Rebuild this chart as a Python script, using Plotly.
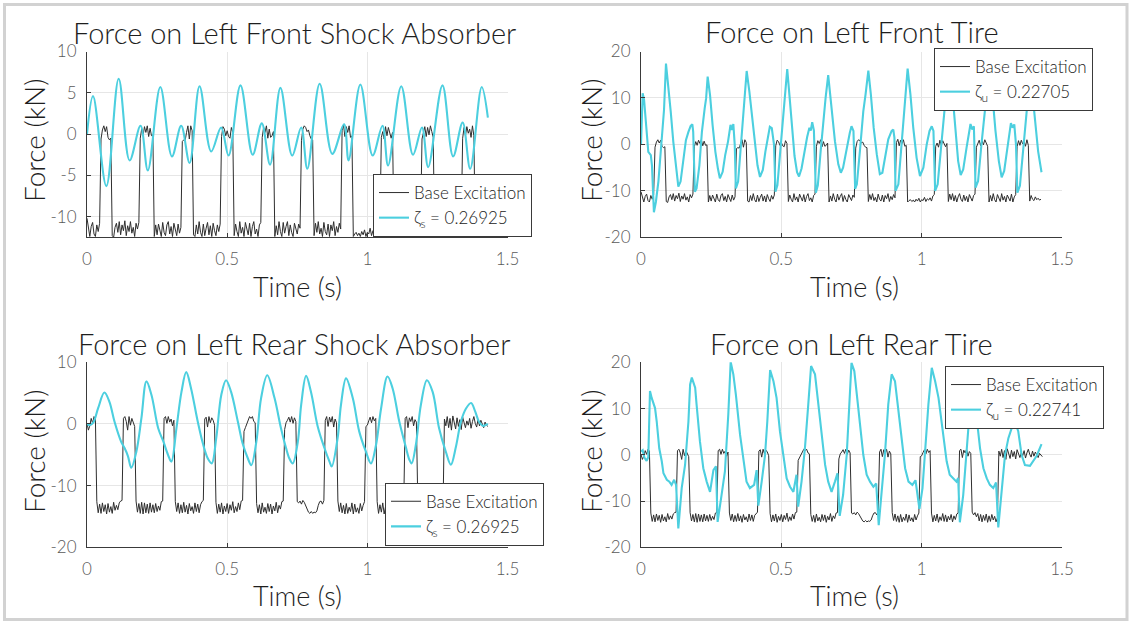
import numpy as np
import plotly.graph_objects as go

# ---------------- data ----------------
SAMPLE_DT = 0.005  # sampling step of the base-excitation records (s)

# Front base excitation (kN), sampled every SAMPLE_DT from t = 0
front_base = [
    -10.2, -11.6, -12.4, -11.2, -10.7, -12.1, -12.4, -11.0, -11.8, -10.8,
    -0.6, 0.5, 1.0, 0.3, 0.9, -0.4, -0.7, -0.5,
    -12.3, -12.5, -11.3, -10.8, -11.9, -10.6, -12.2, -11.0, -11.7, -10.5,
    -12.3, -11.1, -11.8, -10.6, -12.0, -11.3, -12.4, -10.8, -11.5, -10.7,
    -0.5, 0.6, -0.2, 0.9, 0.2, 1.0, -0.3, 0.7, -0.2, -0.1,
    -12.4, -11.0, -12.2, -10.9, -11.8, -12.4, -10.7, -11.9, -12.3, -11.0,
    -10.6, -12.1, -11.2, -12.4, -10.8, -11.6, -12.3, -10.9, -12.0, -11.3,
    -0.9, -0.7, -0.8, 0.2, 1.0, -0.6, 1.0, 0.4,
    -12.2, -12.4, -11.0, -12.1, -10.6, -11.9, -12.4, -10.9, -12.3, -11.4,
    -10.7, -12.2, -11.1, -12.4, -10.8, -11.7, -12.3, -11.0, -11.8, -10.9,
    -0.3, 0.9, 0.6, -0.2, 0.4, -0.3, -0.5, 0.8, 0.2,
    -12.3, -10.9, -11.8, -12.4, -10.6, -12.0, -11.3, -12.4, -10.7, -11.6,
    -12.2, -10.8, -12.4, -11.2, -10.6, -12.1, -11.5, -12.4, -11.0, -10.7,
    -0.4, 0.8, 0.2, 1.0, -0.5, 0.6, -0.4, -0.2, 0.3,
    -12.4, -11.1, -12.2, -10.6, -11.8, -12.4, -10.7, -12.0, -11.2, -10.6,
    -12.3, -11.0, -11.9, -12.4, -10.8, -11.6, -12.1, -10.9, -11.4,
    -0.8, 0.6, 1.0, 0.8, 0.3, 0.5, -0.2, -0.6, -0.7,
    -12.3, -10.8, -11.9, -10.6, -12.1, -11.4, -12.4, -10.7, -11.8, -12.2,
    -10.9, -12.4, -11.0, -11.7, -10.6, -12.3, -11.2, -11.9, -10.8, -11.5,
    0.4, 1.1, -0.3, 0.9, 0.2, 1.0, -0.4, -0.2,
    -12.4, -12.1, -11.9, -12.3, -12.0, -12.4, -11.8, -12.2, -11.6, -12.4,
    -11.9, -12.1, -11.4, -12.3, -11.7, -12.0, -11.5, -12.2, -11.1, -10.8,
    -0.4, 0.3, -0.6, 0.9, -0.2, 0.8, 0.1, -0.5, 0.2,
    -12.3, -10.7, -11.9, -10.6, -12.2, -11.0, -12.4, -11.3, -10.6, -11.8,
    -12.3, -10.9, -12.1, -11.2, -12.4, -10.8, -11.6, -12.2, -11.0, -10.7,
    -0.6, 0.2, 0.9, -0.3, 0.8, -0.1, 1.0, 0.3, -0.4,
    -12.4, -11.0, -12.2, -10.6, -11.9, -12.4, -10.8, -11.4, -12.3, -10.6,
    -12.0, -11.2, -12.4, -10.9, -11.7, -12.2, -10.7, -12.4, -11.3, -10.8,
    -0.5, 0.8, -0.2, 0.9, 0.1, 0.6, -0.4, 1.0, -0.2,
    -12.2, -11.0, -11.8, -12.1, -11.3, -11.9, -11.6, -12.0, -11.8,
]

# Rear base excitation (kN), sampled every SAMPLE_DT from t = 0
rear_base = [
    0.1, -1.0, -0.3, 0.9, 0.1, 1.2, 0.8,
    -12.6, -14.4, -13.0, -14.5, -12.8, -14.2, -13.1, -14.6, -12.9, -14.3,
    -13.4, -14.5, -12.7, -14.0, -13.2, -13.9, -12.8, -12.5, -12.4,
    0.9, 1.2, 0.4, -1.0, 1.2, -0.2, 0.9, 0.1, -0.4,
    -12.5, -14.3, -12.9, -14.5, -12.7, -14.6, -12.8, -14.4, -13.0, -14.5,
    -12.8, -14.3, -13.1, -14.4, -12.9, -14.2, -13.3, -14.0, -12.6, -12.5,
    0.9, 1.2, 0.1, 1.2, 0.3, 0.8, -0.3, 0.6,
    -12.6, -14.2, -12.8, -14.5, -13.1, -14.4, -12.7, -14.3, -13.2, -14.6,
    -12.9, -14.1, -13.4, -14.5, -12.8, -14.2, -13.0, -14.4, -13.1, -12.6, -12.4,
    0.8, 1.1, -0.5, 1.2, 0.2, 1.0, 0.6, -0.2,
    -12.7, -14.5, -13.0, -14.3, -12.8, -14.6, -13.3, -14.2, -12.9, -14.5,
    -13.1, -14.0, -12.6, -14.4, -13.4, -14.2, -12.8, -13.9, -12.5, -12.4,
    -1.2, -0.6, 0.1, 0.8, 1.2, 0.9, 1.2, 0.4, 0.2,
    -12.9, -14.4, -13.1, -14.6, -12.8, -14.3, -13.5, -14.5, -12.9, -14.2,
    -13.0, -14.6, -13.3, -14.1, -12.7, -14.4, -13.2, -13.8, -12.6, -12.5,
    -0.9, 0.2, 0.6, 1.1, 0.3, 1.2, 0.1, 1.0, 0.4,
    -12.6, -12.8, -12.5, -13.0, -12.4, -12.7, -13.3, -13.9, -14.3, -14.5,
    -14.2, -14.5, -14.3, -14.4, -14.1, -13.2, -12.6, -12.5, -13.0, -12.4,
    0.6, 1.2, -0.4, 1.1, 0.3, 1.2, -0.5, 0.8, 0.2,
    -12.5, -14.2, -12.8, -14.4, -13.2, -14.6, -12.9, -14.5, -13.5, -14.2,
    -12.8, -14.6, -13.0, -14.3, -13.6, -14.5, -12.9, -14.1, -13.2, -12.6,
    -0.4, -0.2, 0.5, 1.1, 0.2, 1.2, 0.5, 0.9,
    -12.6, -14.5, -13.1, -14.3, -12.8, -14.6, -13.4, -14.2, -12.7, -14.4,
    -13.0, -14.5, -13.3, -14.1, -12.9, -14.5, -13.2, -14.0, -12.8, -12.6,
    0.9, 1.2, -0.6, 1.0, 0.4, 1.2, -0.3, 0.7, 0.3,
    -12.4, -13.0, -12.5, -13.4, -12.7, -14.3, -12.9, -14.5, -13.1, -14.2,
    -12.8, -14.6, -13.2, -14.4, -12.9, -14.1, -13.3, -14.5, -13.6,
    0.8, -0.3, 1.2, -0.6, 0.9, -1.0, 1.3, 0.2, -0.8, 1.0,
    -0.4, 0.7, -0.9, 1.1, 0.3, -0.6, 0.5, -0.2, 0.9, -0.7,
    0.4, 1.2, 0.1, -0.5, 0.8, -0.3, 0.6, 0.0, -0.6, 0.3, -0.2, -0.4,
]

# Left front shock absorber force, zeta_s = 0.26925
front_shock_t = [0.000, 0.0215, 0.069, 0.113, 0.152, 0.191, 0.217, 0.2615, 0.303, 0.336,
                 0.366, 0.4015, 0.443, 0.4785, 0.505, 0.5475, 0.591, 0.6235, 0.653, 0.690,
                 0.732, 0.764, 0.786, 0.830, 0.875, 0.917, 0.933, 0.975, 1.019, 1.054,
                 1.074, 1.121, 1.163, 1.195, 1.217, 1.268, 1.306, 1.340, 1.367, 1.408, 1.430]
front_shock_v = [0.0, 4.6, -6.3, 6.7, -3.2, 1.0, -4.4, 5.7, -2.7, 1.0,
                 -3.5, 5.8, -2.1, 0.8, -2.6, 5.9, -2.5, 1.3, -3.7, 5.6,
                 -2.6, 0.8, -4.2, 6.1, -2.4, 1.2, -3.2, 6.0, -2.6, 1.0,
                 -3.8, 5.8, -2.5, 0.8, -4.0, 5.9, -2.7, 1.4, -4.2, 5.7, 2.0]

# Left rear shock absorber force, zeta_s = 0.26925
rear_shock_t = [0.000, 0.010, 0.022, 0.040, 0.062, 0.080, 0.098, 0.122, 0.134, 0.146,
                0.158, 0.176, 0.194, 0.212, 0.230, 0.254, 0.272, 0.289, 0.301, 0.319,
                0.337, 0.354, 0.371, 0.395, 0.413, 0.431, 0.445, 0.461, 0.479, 0.496,
                0.514, 0.538, 0.556, 0.574, 0.586, 0.604, 0.621, 0.643, 0.669, 0.692,
                0.710, 0.722, 0.734, 0.752, 0.764, 0.7815, 0.799, 0.823, 0.847, 0.865,
                0.873, 0.894, 0.906, 0.924, 0.948, 0.971, 0.995, 1.013, 1.031, 1.049,
                1.072, 1.090, 1.114, 1.137, 1.150, 1.158, 1.173, 1.191, 1.2125, 1.233,
                1.256, 1.280, 1.298, 1.316, 1.334, 1.352, 1.370, 1.385, 1.398, 1.412, 1.430]
rear_shock_v = [0.0, -0.2, 0.2, 2.6, 5.1, 3.6, 0.4, -2.9, -3.9, -5.2,
                -7.1, -4.5, 0.9, 6.9, 4.7, -0.7, -2.8, -5.0, -6.1, -0.7,
                5.2, 8.4, 5.8, 0.4, -3.1, -5.6, -6.4, -2.3, 4.7, 7.1,
                5.2, 0.4, -3.3, -5.6, -6.7, -2.9, 4.2, 7.9, 4.2, -0.7,
                -3.9, -5.6, -6.4, -2.9, 3.1, 7.8, 5.2, -0.4, -3.9, -6.1,
                -6.9, -2.3, 3.1, 7.4, 4.2, -1.2, -4.5, -6.4, -3.4, 2.5,
                7.7, 5.8, 0.4, -3.7, -5.8, -6.4, -3.4, 3.1, 7.1, 5.2,
                -0.7, -4.5, -6.6, -3.7, 0.4, 2.5, 3.4, 2.0, 0.4, -0.3, 0.0]

# Left front tire force, zeta_u = 0.22705
front_tire_t = [0.000, 0.006, 0.011, 0.018, 0.026, 0.035, 0.039, 0.046, 0.053, 0.062,
                0.070, 0.077, 0.082, 0.089, 0.097, 0.106, 0.115, 0.125, 0.133, 0.141,
                0.151, 0.160, 0.169, 0.177, 0.183, 0.186, 0.192, 0.198, 0.208, 0.217,
                0.227, 0.232, 0.2375, 0.246, 0.255, 0.265, 0.274, 0.281, 0.291, 0.300,
                0.310, 0.315, 0.319, 0.324, 0.329, 0.334, 0.338, 0.346, 0.355, 0.365,
                0.372, 0.3765, 0.386, 0.396, 0.405, 0.415, 0.424, 0.434, 0.443, 0.452,
                0.459, 0.466, 0.474, 0.479, 0.486, 0.495, 0.505, 0.513, 0.521, 0.529,
                0.538, 0.547, 0.556, 0.563, 0.572, 0.582, 0.592, 0.600, 0.605, 0.610,
                0.616, 0.623, 0.630, 0.640, 0.650, 0.658, 0.667, 0.679, 0.691, 0.703,
                0.712, 0.720, 0.729, 0.738, 0.744, 0.750, 0.757, 0.763, 0.769, 0.780,
                0.792, 0.800, 0.810, 0.819, 0.829, 0.840, 0.851, 0.860, 0.869, 0.881,
                0.893, 0.899, 0.903, 0.907, 0.917, 0.929, 0.938, 0.944, 0.950, 0.960,
                0.970, 0.982, 0.994, 1.006, 1.018, 1.028, 1.036, 1.042, 1.048, 1.057,
                1.069, 1.081, 1.090, 1.100, 1.110, 1.121, 1.130, 1.139, 1.148, 1.160,
                1.168, 1.174, 1.180, 1.186, 1.192, 1.201, 1.213, 1.225, 1.235, 1.243,
                1.252, 1.263, 1.275, 1.285, 1.294, 1.304, 1.312, 1.318, 1.324, 1.330,
                1.336, 1.341, 1.350, 1.362, 1.372, 1.380, 1.388, 1.396, 1.405, 1.415, 1.427]
front_tire_v = [-0.1, 11.0, 9.6, 4.9, -1.6, -2.3, -4.5, -14.6, -12.4, -8.0,
                -1.6, 4.9, 7.4, 17.4, 12.8, 7.0, 0.6, -5.2, -9.1, -8.0,
                -3.0, 0.9, 2.7, 4.0, 4.3, 2.7, -10.2, -9.5, -4.5, 2.7,
                7.8, 9.9, 14.6, 10.6, 4.2, -1.6, -5.2, -7.3, -5.9, -2.3,
                0.6, 2.7, 4.2, 3.1, 4.4, -0.1, -9.5, -8.0, -0.9, 5.6,
                10.6, 15.8, 11.4, 5.6, -0.1, -4.5, -7.0, -5.5, -1.6, 2.0,
                3.8, 3.5, -0.1, -10.2, -8.8, -2.3, 4.9, 10.6, 16.2, 10.5,
                3.5, -2.5, -6.0, -6.9, -5.2, -1.5, 1.6, 3.6, 3.0, 4.8,
                3.0, -10.4, -8.8, -1.5, 5.5, 10.2, 14.9, 7.9, 0.7, -4.3,
                -6.1, -5.0, -2.1, 1.1, 2.5, 3.9, 2.9, -9.6, -8.6, -1.4,
                7.1, 10.7, 15.9, 10.7, 3.6, -2.1, -6.4, -6.1, -2.9, 1.1,
                2.9, 3.2, 1.4, -10.0, -8.6, 0.0, 7.9, 12.1, 16.3, 10.7,
                3.6, -2.9, -6.8, -5.0, 0.0, 2.9, 3.9, 2.9, -10.0, -8.6,
                0.0, 7.1, 12.1, 15.5, 10.7, 2.9, -3.6, -6.6, -5.4, -0.7,
                2.9, 4.4, 3.2, 3.9, -9.3, -7.9, 0.0, 7.9, 12.9, 15.4,
                10.7, 2.9, -3.6, -7.1, -5.7, -1.4, 2.1, 4.6, 3.6, 4.3,
                0.0, -10.4, -8.9, -0.7, 6.0, 11.0, 15.0, 10.0, 4.0, -1.5, -6.0]

# Left rear tire force, zeta_u = 0.22741
rear_tire_t = [0.000, 0.006, 0.012, 0.020, 0.026, 0.032, 0.038, 0.044, 0.050, 0.056,
               0.065, 0.074, 0.080, 0.092, 0.101, 0.109, 0.118, 0.125, 0.133, 0.145,
               0.157, 0.169, 0.175, 0.181, 0.193, 0.198, 0.210, 0.222, 0.234, 0.246,
               0.258, 0.267, 0.273, 0.287, 0.299, 0.311, 0.3195, 0.329, 0.338, 0.353,
               0.365, 0.376, 0.388, 0.403, 0.412, 0.418, 0.430, 0.442, 0.450, 0.460,
               0.472, 0.483, 0.495, 0.507, 0.519, 0.531, 0.543, 0.554, 0.560, 0.572,
               0.584, 0.596, 0.606, 0.620, 0.632, 0.644, 0.656, 0.667, 0.679, 0.691,
               0.700, 0.708, 0.720, 0.733, 0.741, 0.750, 0.760, 0.768, 0.780, 0.792,
               0.804, 0.816, 0.828, 0.838, 0.847, 0.857, 0.869, 0.881, 0.893, 0.905,
               0.917, 0.929, 0.941, 0.953, 0.967, 0.978, 0.992, 1.003, 1.012, 1.024,
               1.036, 1.048, 1.060, 1.077, 1.089, 1.100, 1.112, 1.124, 1.130, 1.136,
               1.148, 1.160, 1.170, 1.180, 1.190, 1.196, 1.208, 1.220, 1.232, 1.243,
               1.255, 1.265, 1.273, 1.285, 1.297, 1.309, 1.321, 1.332, 1.344, 1.356,
               1.368, 1.386, 1.400, 1.410, 1.427]
rear_tire_v = [0.7, 1.0, -0.6, -1.3, -0.5, 13.8, 12.3, 10.9, 10.1, 7.2,
               1.4, -1.4, -4.0, -5.4, -5.8, -6.5, -5.4, -6.5, -15.9, -7.2,
               -2.2, 7.2, 15.2, 16.7, 14.5, 10.9, 2.9, -2.9, -5.8, -8.0,
               -3.3, -2.5, -14.5, -8.7, -3.6, 8.7, 20.1, 17.4, 13.0, 4.3,
               -1.4, -5.8, -7.2, -6.5, -3.3, -11.0, -5.8, 0.0, 7.2, 18.3,
               15.9, 12.3, 5.1, 0.0, -5.1, -6.9, -8.0, -4.3, -11.2, -5.8,
               1.4, 10.9, 19.2, 17.4, 10.9, 3.6, -2.2, -5.8, -8.0, -5.8,
               -4.0, -13.2, -8.7, 0.0, 8.7, 19.9, 18.1, 13.8, 7.2, 0.0,
               -4.3, -5.8, -6.9, -6.2, -15.2, -8.7, 0.0, 10.9, 17.4, 15.9,
               9.4, 2.9, -2.9, -5.8, -6.5, -5.5, -11.7, -7.2, 1.4, 10.9,
               18.8, 15.9, 12.3, 3.6, -1.4, -4.3, -5.1, -5.8, -5.0, -14.6,
               -8.7, 0.0, 8.0, 16.5, 14.0, 8.0, 1.4, -2.9, -5.1, -6.5,
               -7.2, -6.0, -15.7, -7.2, 0.0, 3.6, 5.8, 7.2, 5.1, 0.0,
               -2.2, -2.4, -1.0, -0.2, 2.3]

time_ticks = [0, 0.5, 1, 1.5]
time_tick_text = ["0", "0.5", "1", "1.5"]
shock_front_ticks = [-10, -5, 0, 5, 10]
shock_front_text = ["-10", "-5", "0", "5", "10"]
shock_rear_ticks = [-20, -10, 0, 10]
shock_rear_text = ["-20", "-10", "0", "10"]
tire_ticks = [-20, -10, 0, 10, 20]
tire_text = ["-20", "-10", "0", "10", "20"]

panel_titles = ["Force on Left Front Shock Absorber", "Force on Left Front Tire",
                "Force on Left Rear Shock Absorber", "Force on Left Rear Tire"]
legend_names = ["ζ<sub>s</sub> = 0.26925", "ζ<sub>u</sub> = 0.22705",
                "ζ<sub>s</sub> = 0.26925", "ζ<sub>u</sub> = 0.22741"]

# ---------------- figure ----------------
W, H = 1131, 622
FONT = "Lato, 'Open Sans', sans-serif"
BLACK = "#2e2e2e"
CYAN = "#4CCFDF"

front_t = np.arange(len(front_base)) * SAMPLE_DT
rear_t = np.arange(len(rear_base)) * SAMPLE_DT

fig = go.Figure()

panels = [
    dict(ax="", leg="legend", base_t=front_t, base=front_base, ct=front_shock_t, cv=front_shock_v, shape="spline"),
    dict(ax="2", leg="legend2", base_t=front_t, base=front_base, ct=front_tire_t, cv=front_tire_v, shape="linear"),
    dict(ax="3", leg="legend3", base_t=rear_t, base=rear_base, ct=rear_shock_t, cv=rear_shock_v, shape="spline"),
    dict(ax="4", leg="legend4", base_t=rear_t, base=rear_base, ct=rear_tire_t, cv=rear_tire_v, shape="linear"),
]

for p, name in zip(panels, legend_names):
    fig.add_trace(go.Scatter(x=p["base_t"], y=p["base"], mode="lines",
                             line=dict(color=BLACK, width=1), name="Base Excitation",
                             xaxis="x" + p["ax"], yaxis="y" + p["ax"], legend=p["leg"]))
    fig.add_trace(go.Scatter(x=p["ct"], y=p["cv"], mode="lines",
                             line=dict(color=CYAN, width=2.1, shape=p["shape"], smoothing=1.0),
                             name=name, xaxis="x" + p["ax"], yaxis="y" + p["ax"], legend=p["leg"]))

px_x = lambda v: v / W
px_y = lambda v: 1 - v / H

left_dom = [px_x(87), px_x(507.5)]
right_dom = [px_x(641), px_x(1062)]
top_dom = [px_y(237.3), px_y(51.5)]
bot_dom = [px_y(547.3), px_y(362.3)]

common = dict(showline=True, linecolor="#3a3a3a", linewidth=1, mirror=False,
              ticks="inside", ticklen=4, tickcolor="#3a3a3a", tickwidth=1,
              showgrid=True, gridcolor="#e6e6e6", gridwidth=1, zeroline=False,
              tickfont=dict(family=FONT, size=17, color="#5a5a5a", weight=300), fixedrange=True)

xcommon = dict(common, range=[0, 1.5], tickmode="array", tickvals=time_ticks,
               ticktext=time_tick_text, ticklabelstandoff=6)

fig.update_layout(
    xaxis=dict(xcommon, domain=left_dom, anchor="y"),
    yaxis=dict(common, domain=top_dom, anchor="x", range=[-12.5, 10], tickmode="array",
               tickvals=shock_front_ticks, ticktext=shock_front_text, ticklabelstandoff=6),
    xaxis2=dict(xcommon, domain=right_dom, anchor="y2"),
    yaxis2=dict(common, domain=top_dom, anchor="x2", range=[-20, 20], tickmode="array",
                tickvals=tire_ticks, ticktext=tire_text, ticklabelstandoff=6),
    xaxis3=dict(xcommon, domain=left_dom, anchor="y3"),
    yaxis3=dict(common, domain=bot_dom, anchor="x3", range=[-20, 10], tickmode="array",
                tickvals=shock_rear_ticks, ticktext=shock_rear_text, ticklabelstandoff=6),
    xaxis4=dict(xcommon, domain=right_dom, anchor="y4"),
    yaxis4=dict(common, domain=bot_dom, anchor="x4", range=[-20, 20], tickmode="array",
                tickvals=tire_ticks, ticktext=tire_text, ticklabelstandoff=6),
)

leg_common = dict(xanchor="left", yanchor="top", bgcolor="white", bordercolor="#3a3a3a",
                  borderwidth=1, font=dict(family=FONT, size=17, color="#222", weight=300),
                  tracegroupgap=0, itemwidth=30, traceorder="normal")
fig.update_layout(
    legend=dict(leg_common, x=px_x(373), y=px_y(174)),
    legend2=dict(leg_common, x=px_x(934), y=px_y(48)),
    legend3=dict(leg_common, x=px_x(385), y=px_y(482.7)),
    legend4=dict(leg_common, x=px_x(945), y=px_y(366)),
)

annotations = []
centers_x = [294, 851.5, 294, 851.5]
title_y = [32, 31, 343, 343]
xlabel_y = [286, 286, 595, 595]
ylabel_x = [34, 591, 34, 591]
plot_mid_y = [141, 141, 452, 452]
for i in range(4):
    annotations.append(dict(text=panel_titles[i], x=px_x(centers_x[i]), y=px_y(title_y[i]),
                            xref="paper", yref="paper", xanchor="center", yanchor="middle",
                            showarrow=False,
                            font=dict(family=FONT, size=29, color="#1e1e1e", weight=300)))
    annotations.append(dict(text="Time (s)", x=px_x(centers_x[i] + 3), y=px_y(xlabel_y[i]),
                            xref="paper", yref="paper", xanchor="center", yanchor="middle",
                            showarrow=False,
                            font=dict(family=FONT, size=27, color="#1e1e1e", weight=300)))
    annotations.append(dict(text="Force (kN)", x=px_x(ylabel_x[i]), y=px_y(plot_mid_y[i]),
                            xref="paper", yref="paper", xanchor="center", yanchor="middle",
                            textangle=-90, showarrow=False,
                            font=dict(family=FONT, size=28, color="#1e1e1e", weight=300)))

fig.update_layout(
    width=W, height=H, autosize=False,
    margin=dict(l=0, r=0, t=0, b=0, pad=0, autoexpand=False),
    paper_bgcolor="white", plot_bgcolor="white",
    annotations=annotations,
    shapes=[dict(type="rect", xref="paper", yref="paper",
                 x0=px_x(4.5), x1=px_x(1127), y0=px_y(619.5), y1=px_y(4.5),
                 line=dict(color="#d2d2d2", width=3), fillcolor="rgba(0,0,0,0)", layer="below")],
    font=dict(family=FONT),
)

fig.write_html(
    "out.html",
    config={"displayModeBar": False, "staticPlot": True},
    post_script="document.documentElement.style.margin='0';document.body.style.margin='0';"
                "document.body.style.padding='0';document.body.style.overflow='hidden';",
)
